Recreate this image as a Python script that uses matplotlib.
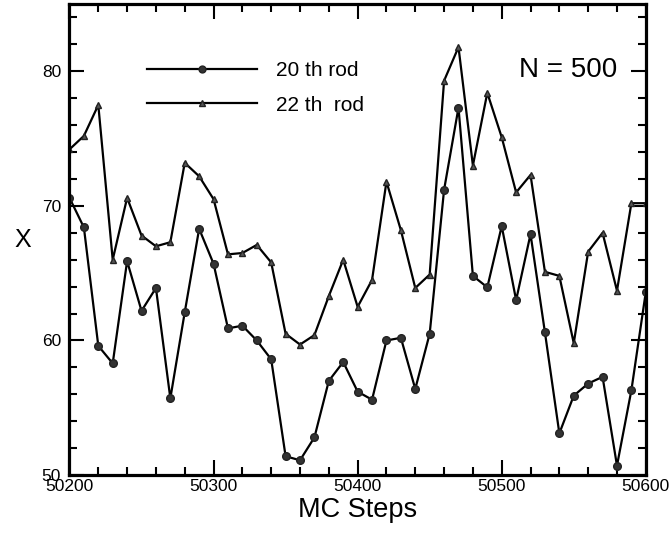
import numpy as np
import matplotlib.pyplot as plt
from matplotlib.ticker import MultipleLocator

plt.rcParams['font.family'] = ['Liberation Sans', 'DejaVu Sans']

# MC steps (every 10 steps)
steps = list(range(50200, 50601, 10))

# 20th rod (circles)
rod20 = [70.6, 68.4, 59.6, 58.3, 65.9, 62.2, 63.9, 55.7, 62.1, 68.3,
         65.7, 60.9, 61.1, 60.0, 58.6, 51.4, 51.1, 52.8, 57.0, 58.4,
         56.2, 55.6, 60.0, 60.2, 56.4, 60.5, 71.2, 77.3, 64.8, 63.95,
         68.5, 63.0, 67.9, 60.6, 53.1, 55.9, 56.8, 57.3, 50.7, 56.3,
         63.6]

# 22th rod (triangles)
rod22 = [74.2, 75.2, 77.5, 66.0, 70.6, 67.8, 67.0, 67.3, 73.2, 72.2,
         70.5, 66.4, 66.5, 67.1, 65.8, 60.5, 59.7, 60.4, 63.3, 66.0,
         62.5, 64.5, 71.8, 68.2, 63.9, 64.9, 79.3, 81.8, 73.0, 78.4,
         75.1, 71.0, 72.3, 65.1, 64.8, 59.8, 66.6, 68.0, 63.7, 70.2,
         70.2]

fig = plt.figure(figsize=(6.72, 5.35), dpi=100)
ax = fig.add_axes([0.1034, 0.112, 0.8576, 0.8805])

ax.plot(steps, rod20, color='black', lw=1.6, marker='o', ms=5.5,
        mfc='#333333', mec='#222222', label='20 th rod')
ax.plot(steps, rod22, color='black', lw=1.6, marker='^', ms=5,
        mfc='#555555', mec='#222222', label='22 th  rod')

ax.set_xlim(50200, 50600)
ax.set_ylim(50, 85)
ax.xaxis.set_major_locator(MultipleLocator(100))
ax.xaxis.set_minor_locator(MultipleLocator(20))
ax.yaxis.set_major_locator(MultipleLocator(10))
ax.yaxis.set_minor_locator(MultipleLocator(2))
ax.tick_params(which='both', direction='in', top=True, right=True,
               labelsize=12.5, width=1.5)
ax.tick_params(which='major', length=11)
ax.tick_params(which='minor', length=6)
ax.tick_params(axis='y', which='major', pad=6)
ax.tick_params(axis='x', which='major', pad=3)
for s in ax.spines.values():
    s.set_linewidth(2.3)

ax.set_xlabel('MC Steps', fontsize=19.5, labelpad=2)
ax.set_ylabel('X', fontsize=18, rotation=0, labelpad=14, va='center')

leg = ax.legend(loc='center left', bbox_to_anchor=(0.134, 0.822), frameon=False,
                fontsize=15, handlelength=5.3, handletextpad=0.9,
                labelspacing=0.75, borderpad=0, borderaxespad=0,
                markerscale=0.9)

ax.text(0.95, 0.86, 'N = 500', transform=ax.transAxes, fontsize=20,
        ha='right', va='center')

fig.savefig('out.png', dpi=100)
